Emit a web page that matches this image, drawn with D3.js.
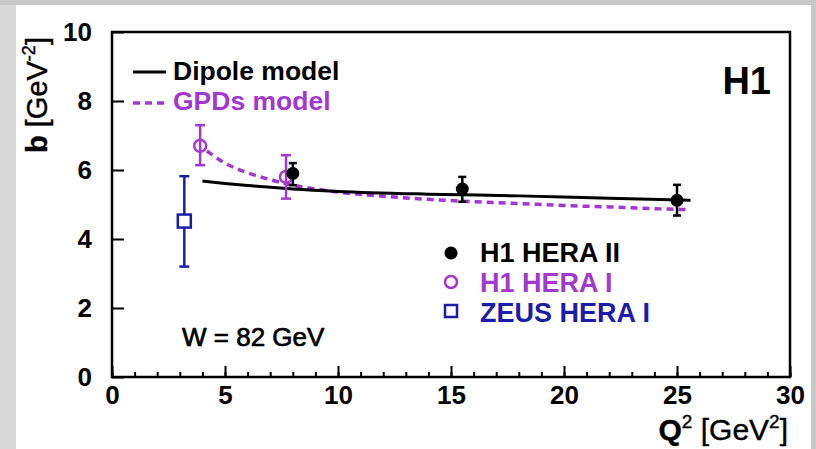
<!DOCTYPE html>
<html lang="en">
<head>
    <meta charset="UTF-8">
    <script src="https://cdn.jsdelivr.net/npm/d3@7"></script>
    <style>
        body{ margin:0; }
        svg{ font-family:"Liberation Sans", Arial, Helvetica, sans-serif; }
    </style>
    <title>b vs Q2</title>
</head>
<body>
    <svg height="449" width="816"></svg>
    <script>
        // measured points, Q2 in GeV^2, b in GeV^-2
        var h1h2Q2 = [8.0, 15.5, 25.0],
            h1h2B = [5.9, 5.45, 5.12],
            h1h2Lo = [5.56, 5.08, 4.68],
            h1h2Hi = [6.2, 5.8, 5.57];
        var h1h1Q2 = [3.9, 7.7],
            h1h1B = [6.7, 5.8],
            h1h1Lo = [6.14, 5.17],
            h1h1Hi = [7.3, 6.43];
        var zeusQ2 = [3.2],
            zeusB = [4.52],
            zeusLo = [3.2],
            zeusHi = [5.82];
        // model curves
        var dipoleQ2 = [4.0, 5, 6, 8, 10, 14, 18, 22, 25.6],
            dipoleB = [5.68, 5.61, 5.55, 5.45, 5.38, 5.30, 5.25, 5.18, 5.12];
        var gpdQ2 = [4.2, 5, 6, 7, 8, 9, 10, 12, 14, 16, 18, 20, 22, 24, 25.5],
            gpdB = [6.55, 6.2, 5.92, 5.72, 5.56, 5.45, 5.36, 5.24, 5.15, 5.08, 5.03, 4.97, 4.93, 4.88, 4.85];
        var xTicks = [0, 5, 10, 15, 20, 25, 30],
            yTicks = [0, 2, 4, 6, 8, 10];

        var purple = "#a238d0", blue = "#1c1ca8";

        var svg = d3.select("svg");
        // grey page border
        svg.append("rect").attr("width", 816).attr("height", 449).attr("fill", "#c8c8c8");
        svg.append("rect").attr("x", 0).attr("y", 5).attr("width", 16).attr("height", 444).attr("fill", "#dadada");
        svg.append("rect").attr("x", 16).attr("y", 5).attr("width", 795).attr("height", 444).attr("fill", "#fff");

        var padLeft = 112, padTop = 32, width = 678, height = 345;
        var x = d3.scaleLinear().domain([0, 30]).range([0, width]);
        var y = d3.scaleLinear().domain([0, 10]).range([height, 0]);
        var g = svg.append("g").attr("transform", "translate(" + padLeft + "," + padTop + ")");

        // minor x ticks
        g.append("g")
            .attr("transform", "translate(0," + height + ")")
            .call(d3.axisBottom(x).tickValues(d3.range(0, 31)).tickSize(-5).tickFormat(""))
            .call(function(a){ a.select(".domain").remove(); })
            .selectAll("line").attr("stroke-width", 2);
        // major x ticks
        var xa = g.append("g")
            .attr("transform", "translate(0," + height + ")")
            .call(d3.axisBottom(x).tickValues(xTicks).tickSize(-11).tickPadding(9));
        xa.select(".domain").remove();
        xa.selectAll("line").attr("stroke-width", 2);
        xa.selectAll("text").attr("font-size", 26).attr("font-weight", "bold").attr("fill", "#000")
            .attr("font-family", "Liberation Sans, Arial, sans-serif");

        var ya = g.append("g")
            .call(d3.axisLeft(y).tickValues(yTicks).tickSize(-12).tickPadding(20));
        ya.select(".domain").remove();
        ya.selectAll("line").attr("stroke-width", 2);
        ya.selectAll("text").attr("font-size", 26).attr("font-weight", "bold").attr("fill", "#000")
            .attr("font-family", "Liberation Sans, Arial, sans-serif");

        // frame
        g.append("rect").attr("width", width).attr("height", height)
            .attr("fill", "none").attr("stroke", "#000").attr("stroke-width", 2.5);

        // model curves
        var line = d3.line().x(function(d){ return x(d[0]); }).y(function(d){ return y(d[1]); }).curve(d3.curveMonotoneX);
        g.append("path").datum(d3.zip(gpdQ2, gpdB)).attr("d", line)
            .attr("fill", "none").attr("stroke", purple).attr("stroke-width", 3.5).attr("stroke-dasharray", "7,5");
        g.append("path").datum(d3.zip(dipoleQ2, dipoleB)).attr("d", line)
            .attr("fill", "none").attr("stroke", "#000").attr("stroke-width", 3);

        // error bars with end caps
        function errBars(q, lo, hi, color, w){
            var e = g.append("g").attr("stroke", color).attr("stroke-width", 2.5);
            q.forEach(function(v, i){
                e.append("line").attr("x1", x(v)).attr("x2", x(v)).attr("y1", y(lo[i])).attr("y2", y(hi[i]));
                [lo[i], hi[i]].forEach(function(b){
                    e.append("line").attr("x1", x(v) - w).attr("x2", x(v) + w).attr("y1", y(b)).attr("y2", y(b));
                });
            });
        }
        errBars(zeusQ2, zeusLo, zeusHi, blue, 5);
        errBars(h1h1Q2, h1h1Lo, h1h1Hi, purple, 5);
        errBars(h1h2Q2, h1h2Lo, h1h2Hi, "#000", 4);

        g.selectAll(".zeus").data(d3.zip(zeusQ2, zeusB)).enter().append("rect")
            .attr("x", function(d){ return x(d[0]) - 6.5; }).attr("y", function(d){ return y(d[1]) - 6.5; })
            .attr("width", 13).attr("height", 13)
            .attr("fill", "#fff").attr("stroke", blue).attr("stroke-width", 2.5);
        g.selectAll(".h1one").data(d3.zip(h1h1Q2, h1h1B)).enter().append("circle")
            .attr("cx", function(d){ return x(d[0]); }).attr("cy", function(d){ return y(d[1]); })
            .attr("r", 6).attr("fill", "none").attr("stroke", purple).attr("stroke-width", 2.5);
        g.selectAll(".h1two").data(d3.zip(h1h2Q2, h1h2B)).enter().append("circle")
            .attr("cx", function(d){ return x(d[0]); }).attr("cy", function(d){ return y(d[1]); })
            .attr("r", 6.5).attr("fill", "#000");

        // legend: models
        svg.append("line").attr("x1", 133).attr("x2", 166).attr("y1", 72).attr("y2", 72)
            .attr("stroke", "#000").attr("stroke-width", 3);
        svg.append("line").attr("x1", 133).attr("x2", 166).attr("y1", 103).attr("y2", 103)
            .attr("stroke", purple).attr("stroke-width", 3.5).attr("stroke-dasharray", "7,5");
        svg.append("text").attr("x", 173).attr("y", 80).attr("font-size", 26.5).attr("font-weight", "bold")
            .text("Dipole model");
        svg.append("text").attr("x", 173).attr("y", 110).attr("font-size", 26.5).attr("font-weight", "bold")
            .attr("fill", purple).text("GPDs model");

        // legend: data
        svg.append("circle").attr("cx", 451).attr("cy", 253).attr("r", 6.5).attr("fill", "#000");
        svg.append("circle").attr("cx", 451).attr("cy", 282).attr("r", 6).attr("fill", "none")
            .attr("stroke", purple).attr("stroke-width", 2.5);
        svg.append("rect").attr("x", 445).attr("y", 305).attr("width", 12).attr("height", 12).attr("fill", "none")
            .attr("stroke", blue).attr("stroke-width", 2.5);
        svg.append("text").attr("x", 480).attr("y", 262).attr("font-size", 27).attr("font-weight", "bold")
            .text("H1 HERA II");
        svg.append("text").attr("x", 480).attr("y", 292).attr("font-size", 27).attr("font-weight", "bold")
            .attr("fill", purple).text("H1 HERA I");
        svg.append("text").attr("x", 480).attr("y", 322).attr("font-size", 27).attr("font-weight", "bold")
            .attr("fill", blue).text("ZEUS HERA I");

        svg.append("text").attr("x", 771).attr("y", 94).attr("text-anchor", "end")
            .attr("font-size", 38).attr("font-weight", "bold").text("H1");
        svg.append("text").attr("x", 182).attr("y", 346).attr("font-size", 26)
            .attr("stroke", "#000").attr("stroke-width", 0.7).text("W = 82 GeV");

        // axis titles
        var xt = svg.append("text").attr("x", 788).attr("y", 440).attr("text-anchor", "end").attr("font-size", 30)
            .attr("stroke", "#000").attr("stroke-width", 0.4);
        xt.append("tspan").attr("font-weight", "bold").text("Q");
        xt.append("tspan").attr("font-size", 19).attr("dy", -12).text("2");
        xt.append("tspan").attr("dy", 12).text(" [GeV");
        xt.append("tspan").attr("font-size", 19).attr("dy", -12).text("2");
        xt.append("tspan").attr("dy", 12).text("]");

        var yt = svg.append("text").attr("transform", "translate(47,153) rotate(-90)").attr("font-size", 29)
            .attr("stroke", "#000").attr("stroke-width", 0.4);
        yt.append("tspan").attr("font-weight", "bold").text("b");
        yt.append("tspan").text(" [GeV");
        yt.append("tspan").attr("font-size", 18).attr("dy", -12).text("-2");
        yt.append("tspan").attr("dy", 12).text("]");
    </script>
</body>
</html>
